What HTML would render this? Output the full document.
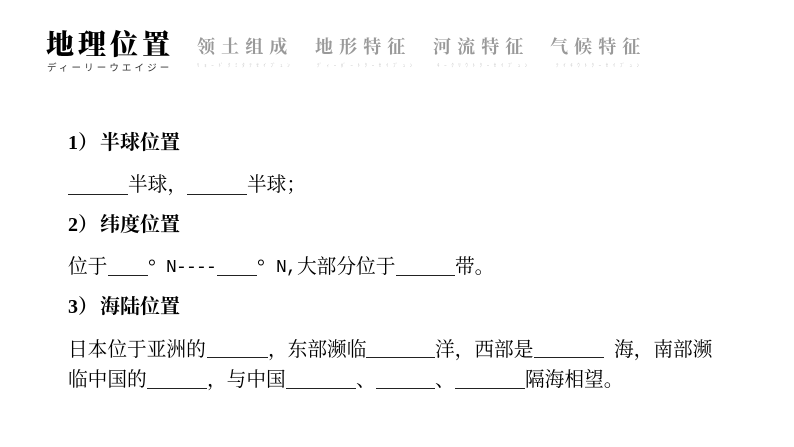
<!DOCTYPE html>
<html lang="zh">
<head>
<meta charset="utf-8">
<style>
html,body{margin:0;padding:0;background:#fff}
#p{position:relative;width:794px;height:447px;overflow:hidden;background:#fff;font-family:"Liberation Serif","Noto Serif CJK SC",serif;color:#000}
#p span{position:absolute;white-space:pre;line-height:1}
#p i{position:absolute;height:1px;background:#222}
.h{font-size:20px;font-weight:700;color:#000}
.b{font-size:19.7px}
.m{font-family:"Liberation Mono",monospace;font-size:16.7px}
.g{font-size:18px;font-weight:700;color:#999;letter-spacing:6.1px;top:38px}
.s{font-size:5px;color:#ccc;top:64px;letter-spacing:4.6px;font-family:"Liberation Sans","Noto Sans CJK JP",sans-serif}
</style>
</head>
<body>
<div id="p">
<span style="left:46px;top:32px;font-size:28px;font-weight:900;color:#000;letter-spacing:4px">地理位置</span>
<span style="left:47px;top:64px;font-size:9.5px;color:#333;letter-spacing:3.1px;font-family:'Liberation Sans','Noto Sans CJK JP',sans-serif">ディーリーウエイジー</span>

<span class="g" style="left:197px">领土组成</span>
<span class="g" style="left:315px">地形特征</span>
<span class="g" style="left:433px">河流特征</span>
<span class="g" style="left:550px">气候特征</span>
<span class="s" style="left:197px">ﾘｮｰﾄﾞｸﾐﾀﾃｾｲﾌﾞｭﾝ</span>
<span class="s" style="left:317px">ﾃﾞｨｰﾎﾞｰﾄｸｰｾｲﾌﾞｭﾝ</span>
<span class="s" style="left:437px">ｷｰｸﾘｳﾄｸｰｾｲﾌﾞｭﾝ</span>
<span class="s" style="left:556px">ﾃｲｷｳﾄｸｰｾｲﾌﾞｭﾝ</span>

<span class="h" style="left:68px;top:133px">1）</span><span class="h" style="left:100px;top:133px">半球位置</span>
<i style="left:68px;top:194px;width:60px"></i>
<span class="b" style="left:128px;top:176px">半球，</span>
<i style="left:187px;top:194px;width:60px"></i>
<span class="b" style="left:247px;top:176px">半球；</span>

<span class="h" style="left:68px;top:215px">2）</span><span class="h" style="left:100px;top:215px">纬度位置</span>
<span class="b" style="left:68px;top:258px">位于</span>
<i style="left:108px;top:275px;width:40px"></i>
<span class="b" style="left:148px;top:258px">°</span>
<span class="m" style="left:166px;top:259px;font-size:18px;letter-spacing:-0.8px">N----</span>
<i style="left:217px;top:275px;width:40px"></i>
<span class="b" style="left:257px;top:258px">°</span>
<span class="m" style="left:276px;top:259px;font-size:18px;letter-spacing:-0.8px">N,</span>
<span class="b" style="left:297px;top:258px">大部分位于</span>
<i style="left:396px;top:275px;width:59px"></i>
<span class="b" style="left:455px;top:258px">带。</span>

<span class="h" style="left:68px;top:297px">3）</span><span class="h" style="left:100px;top:297px">海陆位置</span>
<span class="b" style="left:68px;top:341px">日本位于亚洲的</span>
<i style="left:207px;top:357px;width:61px"></i>
<span class="b" style="left:268px;top:341px">，东部濒临</span>
<i style="left:366px;top:357px;width:69px"></i>
<span class="b" style="left:435px;top:341px">洋，西部是</span>
<i style="left:534px;top:357px;width:70px"></i>
<span class="b" style="left:614px;top:341px">海，南部濒</span>

<span class="b" style="left:68px;top:371px">临中国的</span>
<i style="left:147px;top:388px;width:60px"></i>
<span class="b" style="left:207px;top:371px">，与中国</span>
<i style="left:286px;top:388px;width:70px"></i>
<span class="b" style="left:356px;top:371px">、</span>
<i style="left:376px;top:388px;width:59px"></i>
<span class="b" style="left:435px;top:371px">、</span>
<i style="left:455px;top:388px;width:70px"></i>
<span class="b" style="left:525px;top:371px">隔海相望。</span>
</div>
</body>
</html>
